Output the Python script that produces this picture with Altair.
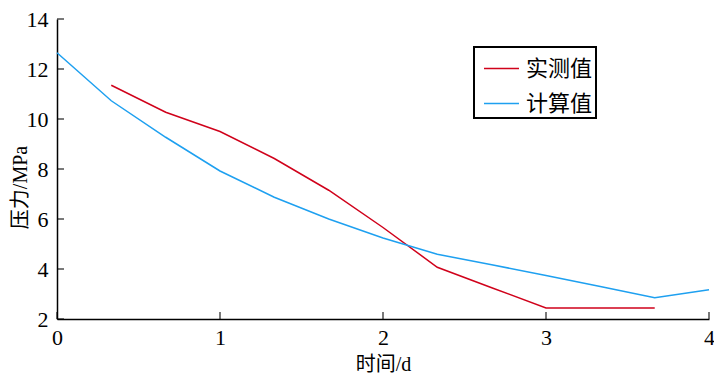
import altair as alt
import pandas as pd

# measured pressure (实测值)
days_meas = [0.333, 0.667, 1.0, 1.333, 1.667, 2.0, 2.333, 2.667, 3.0, 3.333, 3.667]
p_meas = [11.35, 10.27, 9.50, 8.42, 7.15, 5.66, 4.07, 3.25, 2.44, 2.44, 2.44]

# calculated pressure (计算值)
days_calc = [0.0, 0.333, 0.667, 1.0, 1.333, 1.667, 2.0, 2.333, 2.667, 3.0, 3.333, 3.667, 4.0]
p_calc = [12.65, 10.73, 9.27, 7.92, 6.87, 6.00, 5.24, 4.59, 4.17, 3.74, 3.30, 2.85, 3.17]

series_names = ["实测值", "计算值"]
series_colors = ["#d0021b", "#1ea0f0"]
x_ticks = [0, 1, 2, 3, 4]
y_ticks = [2, 4, 6, 8, 10, 12, 14]

df = pd.concat([
    pd.DataFrame({"day": days_meas, "p": p_meas, "series": series_names[0], "order": range(len(days_meas))}),
    pd.DataFrame({"day": days_calc, "p": p_calc, "series": series_names[1], "order": range(len(days_calc))}),
])

W, H = 652, 300
SERIF = "Liberation Serif, Noto Sans CJK SC"

xscale = alt.Scale(domain=[0, 4], nice=False, zero=False)
yscale = alt.Scale(domain=[2, 14], nice=False, zero=False)

xaxis = alt.Axis(values=x_ticks, title="时间/d", grid=False, ticks=False, tickSize=0,
                 labelPadding=8, labelFont=SERIF, labelFontSize=22, labelColor="black",
                 labelFlush=False, format="d",
                 titleFont=SERIF, titleFontSize=20, titleFontWeight="normal", titleColor="black",
                 titleY=35, titleBaseline="top",
                 domainColor="black", domainWidth=1.5)
yaxis = alt.Axis(values=y_ticks, title="压力/MPa", grid=False, ticks=False, tickSize=0,
                 labelPadding=9, labelFont=SERIF, labelFontSize=22, labelColor="black",
                 labelFlush=False, format="d",
                 titleFont=SERIF, titleFontSize=20, titleFontWeight="normal", titleColor="black",
                 titleX=-27, titleY=168, titleAlign="center", titleBaseline="bottom", titleAngle=270,
                 domainColor="black", domainWidth=1.5)

lines = alt.Chart(df).mark_line(strokeWidth=1.5).encode(
    x=alt.X("day:Q", scale=xscale, axis=xaxis),
    y=alt.Y("p:Q", scale=yscale, axis=yaxis),
    order="order:Q",
    color=alt.Color("series:N", scale=alt.Scale(domain=series_names, range=series_colors),
                    legend=alt.Legend(title=None, orient="none", legendX=417, legendY=28,
                                      symbolType="stroke", symbolSize=1225, symbolStrokeWidth=1.5,
                                      labelFont="Noto Sans CJK SC", labelFontSize=22, labelColor="black",
                                      padding=3, symbolOffset=6, labelOffset=6, rowPadding=5,
                                      strokeColor="black", fillColor="white")),
)

xt = alt.Chart(pd.DataFrame({"day": x_ticks})).mark_tick(
    orient="vertical", size=7, thickness=1.5, color="black").encode(
    x=alt.X("day:Q", scale=xscale, axis=xaxis),
    y=alt.value(H - 3.5),
)
yt = alt.Chart(pd.DataFrame({"p": y_ticks})).mark_tick(
    orient="horizontal", size=7, thickness=1.5, color="black").encode(
    y=alt.Y("p:Q", scale=yscale, axis=yaxis),
    x=alt.value(3.5),
)

chart = alt.layer(lines, xt, yt).properties(
    width=W, height=H,
    autosize=alt.AutoSizeParams(type="none"),
    padding={"left": 49, "top": 11, "right": 5, "bottom": 59},
).configure_view(stroke=None).configure_legend(strokeWidth=2)

chart.save("out.html", embed_options={"renderer": "svg", "actions": False})
